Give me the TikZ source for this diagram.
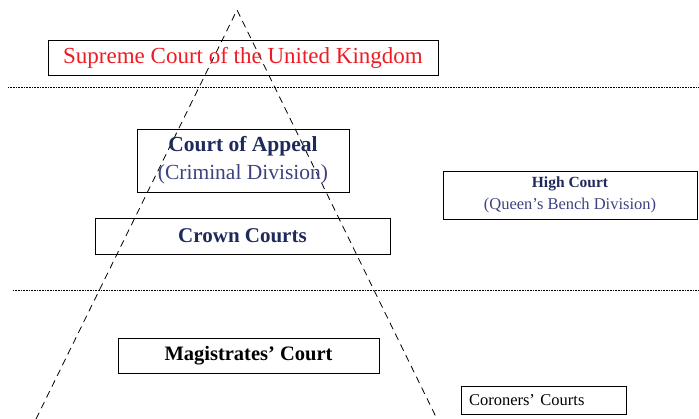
\documentclass[tikz,border=0pt]{standalone}
\usepackage{fontspec}
\setmainfont{Liberation Serif}
\definecolor{ukred}{HTML}{ED1C24}
\definecolor{navy}{HTML}{1F2A5C}
\definecolor{navylight}{HTML}{3E4380}
\tikzset{
court/.style={draw, line width=0.8pt, inner sep=0pt, align=center},
level/.style={densely dotted, line width=0.6pt},
pyramid/.style={dash pattern=on 7pt off 5pt, line width=0.8pt}
}

\begin{document}
\begin{tikzpicture}[x=1pt,y=-1pt] %[x=1pt,y=-1pt] so pixels map to points
\useasboundingbox (0,0) rectangle (699,419);

\coordinate (apex) at (237,10);
\coordinate (baseL) at (36,419);
\coordinate (baseR) at (437,419);
\draw[pyramid] (baseL) -- (apex) -- (baseR);

\coordinate (topA) at (8,87);
\coordinate (topB) at (699,87);
\coordinate (lowA) at (13,290);
\coordinate (lowB) at (699,290);
\draw[level] (topA) -- (topB);
\draw[level] (lowA) -- (lowB);

\node[court, minimum width=390pt, minimum height=35pt, text=ukred,
 font=\fontsize{23}{27}\selectfont] (supreme) at (243,58)
 {Supreme Court of the United Kingdom};

\node[court, minimum width=212pt, minimum height=63pt,
 font=\fontsize{21.5}{28}\selectfont] (appeal) at (243,160.5)
 {\textcolor{navy}{\bfseries Court of Appeal}\\
  \textcolor{navylight}{(Criminal Division)}};

\node[court, minimum width=254pt, minimum height=48pt,
 font=\fontsize{16}{22}\selectfont] (high) at (570,195)
 {\textcolor{navy}{\bfseries\fontsize{15.5}{22}\selectfont High Court}\\
  \textcolor{navylight}{\fontsize{16.5}{22}\selectfont (Queen’s Bench Division)}};

\node[court, minimum width=295pt, minimum height=36pt, text=navy,
 font=\fontsize{21}{25}\selectfont\bfseries] (crown) at (242.5,236)
 {Crown Courts};

\node[court, minimum width=261pt, minimum height=35pt,
 font=\fontsize{20.5}{24}\selectfont\bfseries] (magistrates) at (248.5,355.5)
 {Magistrates’ Court};

\node[court, align=left, text width=149pt, inner xsep=8pt, minimum height=28pt,
 font=\fontsize{16.5}{20}\selectfont] (coroners) at (543.5,400)
 {Coroners’ Courts};
\end{tikzpicture}
\end{document}
